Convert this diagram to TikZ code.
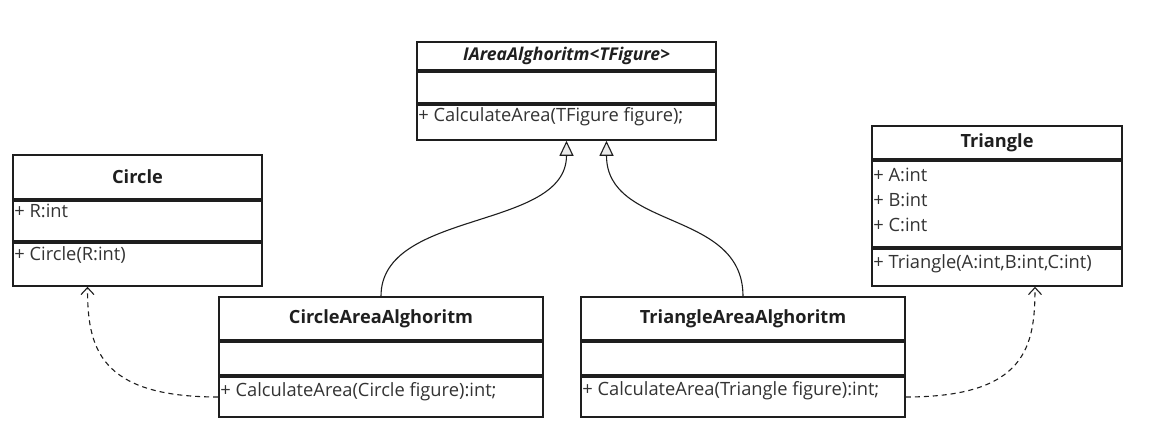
\documentclass[tikz,border=0pt]{standalone}
\usepackage{fontspec}
\setmainfont{Open Sans}
\usetikzlibrary{arrows.meta}
\definecolor{umlline}{HTML}{1E1E1E}
\definecolor{umltext}{HTML}{333333}
\definecolor{tipfill}{HTML}{EBEBEB}
\tikzset{
  umlpart/.style={draw=umlline,line width=1.6pt,fill=white,inner sep=0pt},
  umlhead/.style={umlpart,font=\fontsize{18.2}{22}\selectfont\bfseries,text=umltext!60!black},
  member/.style={anchor=base west,inner sep=0pt,font=\fontsize{18.3}{22}\selectfont,text=umltext},
  realize/.style={-{Triangle[length=15pt,width=14pt,fill=tipfill]},draw=umlline,line width=1.1pt},
  uses/.style={-{Straight Barb[length=7pt,width=13pt]},draw=umlline,line width=1.1pt,
    dash pattern=on 5pt off 4pt},
}

\begin{document}
\begin{tikzpicture}[x=1pt,y=-1pt]
\useasboundingbox (0,0) rectangle (1154,442);
\node[umlhead,font=\fontsize{17.6}{22}\selectfont\bfseries\itshape,minimum width=299pt,minimum height=28pt] (iarea) at (566.5,56) {IAreaAlghoritm<TFigure>};
\node[umlpart,minimum width=299pt,minimum height=31pt] (iarea-attr) at (566.5,87.5) {};
\node[umlpart,minimum width=299pt,minimum height=35pt] (iarea-ops) at (566.5,122.5) {};
\node[member] (iarea-calc) at ([shift={(2,17)}]iarea-ops.north west) {+ CalculateArea(TFigure figure);};

\node[umlhead,minimum width=249pt,minimum height=44pt] (circle) at (137.5,177) {Circle};
\node[umlpart,minimum width=249pt,minimum height=40pt] (circle-attr) at (137.5,221) {};
\node[umlpart,minimum width=249pt,minimum height=43pt] (circle-ops) at (137.5,264.5) {};
\node[member] (circle-r) at ([shift={(2,17)}]circle-attr.north west) {+ R:int};
\node[member] (circle-ctor) at ([shift={(2,18)}]circle-ops.north west) {+ Circle(R:int)};

\node[umlhead,minimum width=250pt,minimum height=33pt] (triangle) at (997,142.5) {Triangle};
\node[umlpart,minimum width=250pt,minimum height=86pt] (triangle-attr) at (997,204) {};
\node[umlpart,minimum width=250pt,minimum height=37pt] (triangle-ops) at (997,267.5) {};
\node[member] (triangle-a) at ([shift={(2,21)}]triangle-attr.north west) {+ A:int};
\node[member] (triangle-b) at ([shift={(2,46)}]triangle-attr.north west) {+ B:int};
\node[member] (triangle-c) at ([shift={(2,71)}]triangle-attr.north west) {+ C:int};
\node[member] (triangle-ctor) at ([shift={(2,20)}]triangle-ops.north west) {+ Triangle(A:int,B:int,C:int)};

\node[umlhead,minimum width=324pt,minimum height=43pt] (circarea) at (381,318.5) {CircleAreaAlghoritm};
\node[umlpart,minimum width=324pt,minimum height=33pt] (circarea-attr) at (381,358.5) {};
\node[umlpart,minimum width=324pt,minimum height=40pt] (circarea-ops) at (381,397) {};
\node[member] (circarea-calc) at ([shift={(2,20)}]circarea-ops.north west) {+ CalculateArea(Circle figure):int;};

\node[umlhead,minimum width=324pt,minimum height=43pt] (triarea) at (743,318.5) {TriangleAreaAlghoritm};
\node[umlpart,minimum width=324pt,minimum height=33pt] (triarea-attr) at (743,358.5) {};
\node[umlpart,minimum width=324pt,minimum height=40pt] (triarea-ops) at (743,397) {};
\node[member] (triarea-calc) at ([shift={(2,19)}]triarea-ops.north west) {+ CalculateArea(Triangle figure):int;};

\draw[realize] (circarea.north) .. controls +(0,-87) and +(0,90) .. (iarea-ops.south);
\draw[realize] (triarea.north) .. controls +(0,-87) and +(0,90) .. ([xshift=40pt]iarea-ops.south);
\draw[uses] (circarea-ops.west) .. controls +(-120,0) and +(0,60) .. ([xshift=-50pt]circle-ops.south);
\draw[uses] (triarea-ops.east) .. controls +(120,0) and +(0,60) .. ([xshift=38pt]triangle-ops.south);
\end{tikzpicture}
\end{document}
